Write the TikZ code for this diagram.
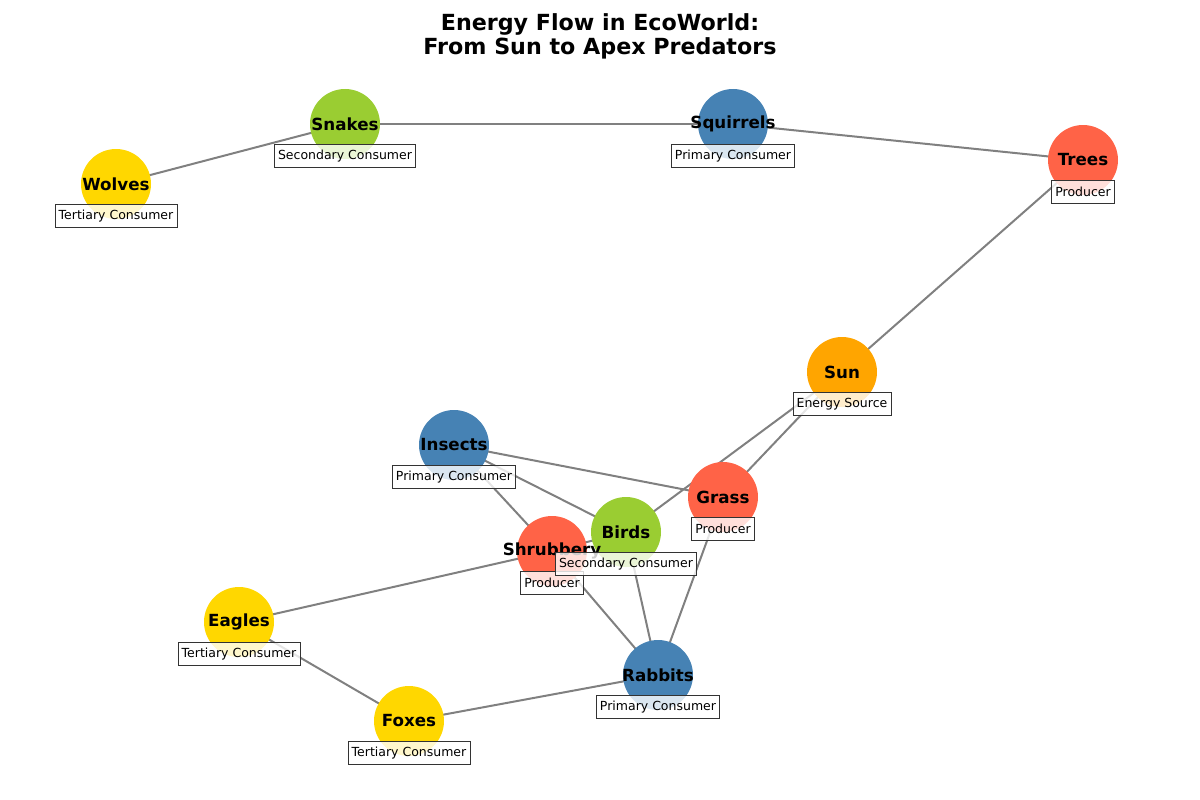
\documentclass[tikz,border=0pt]{standalone}
\usepackage{fontspec}
\setmainfont{DejaVu Sans}
\usetikzlibrary{backgrounds}
\definecolor{gold}{HTML}{FFD700}
\definecolor{yellowgreen}{HTML}{9ACD32}
\definecolor{steelblue}{HTML}{4682B4}
\definecolor{tomato}{HTML}{FF6347}
\definecolor{sunorange}{HTML}{FFA500}
\begin{document}
\begin{tikzpicture}[x=1pt,y=-1pt,
	species/.style={circle,minimum size=70pt,inner sep=0pt},
	spname/.style={font=\fontsize{16.7}{20}\selectfont\bfseries},
	role/.style={draw=black!80,fill=white,fill opacity=0.8,text opacity=1,
		font=\fontsize{12.5}{15}\selectfont,inner xsep=3.75pt,inner ysep=0pt,
		minimum height=23pt,line width=0.8pt},
	link/.style={draw=gray,line width=2pt}]
	\useasboundingbox (0,0) rectangle (1200,800);
	\node[font=\fontsize{22.2}{24}\selectfont\bfseries,align=center] (title) at (600,36)
		{Energy Flow in EcoWorld:\\From Sun to Apex Predators};
	% circles
	\foreach \n/\x/\y/\c in {sun/842/372/sunorange,trees/1083/160/tomato,
		grass/723/497/tomato,shrubbery/552/551/tomato,insects/454/445/steelblue,
		squirrels/733/124/steelblue,rabbits/658/675/steelblue,birds/626/532/yellowgreen,
		snakes/345/124/yellowgreen,wolves/116/184/gold,eagles/239/622/gold,foxes/409/721/gold} {
		\node[species,fill=\c] (\n) at (\x,\y) {};
	};
	% food web
	\begin{scope}[on background layer]
		\draw[link] (wolves.center) -- (snakes.center);
		\draw[link] (snakes.center) -- (squirrels.center);
		\draw[link] (squirrels.center) -- (trees.center);
		\draw[link] (trees.center) -- (sun.center);
		\draw[link] (sun.center) -- (grass.center);
		\draw[link] (sun.center) -- (birds.center);
		\draw[link] (insects.center) -- (grass.center);
		\draw[link] (insects.center) -- (birds.center);
		\draw[link] (insects.center) -- (shrubbery.center);
		\draw[link] (shrubbery.center) -- (birds.center);
		\draw[link] (shrubbery.center) -- (eagles.center);
		\draw[link] (shrubbery.center) -- (rabbits.center);
		\draw[link] (birds.center) -- (rabbits.center);
		\draw[link] (grass.center) -- (rabbits.center);
		\draw[link] (eagles.center) -- (foxes.center);
		\draw[link] (foxes.center) -- (rabbits.center);
	\end{scope}
	% names
	\foreach \n/\t in {sun/Sun,trees/Trees,grass/Grass,shrubbery/Shrubbery,insects/Insects,
		squirrels/Squirrels,rabbits/Rabbits,birds/Birds,snakes/Snakes,wolves/Wolves,
		eagles/Eagles,foxes/Foxes} {
		\node[spname] (\n-name) at (\n.center) {\t};
	};
	% trophic levels
	\foreach \n/\r in {sun/Energy Source,trees/Producer,grass/Producer,shrubbery/Producer,
		insects/Primary Consumer,squirrels/Primary Consumer,rabbits/Primary Consumer,
		birds/Secondary Consumer,snakes/Secondary Consumer,wolves/Tertiary Consumer,
		eagles/Tertiary Consumer,foxes/Tertiary Consumer} {
		\node[role] (\n-role) at ([yshift=-32pt]\n.center) {\r};
	};
\end{tikzpicture}
\end{document}
